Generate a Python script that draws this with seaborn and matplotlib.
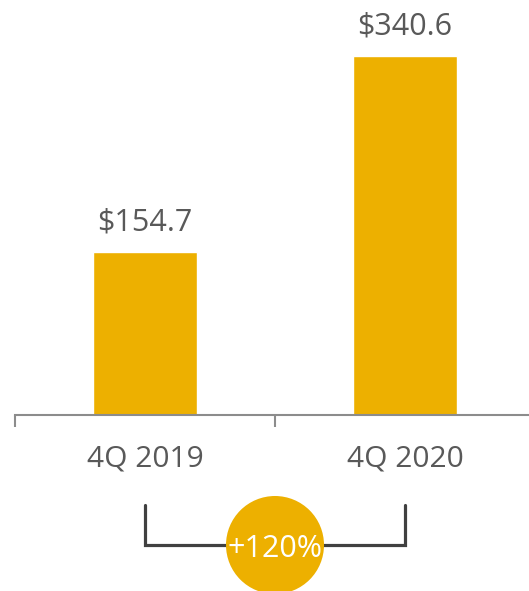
import matplotlib
matplotlib.use("Agg")
import matplotlib.pyplot as plt
from matplotlib.patches import Ellipse
import seaborn as sns
import pandas as pd

# Quarterly totals ($)
quarters = ["4Q 2019", "4Q 2020"]
totals = [154.7, 340.6]
value_labels = ["$154.7", "$340.6"]
growth_label = "+120%"

GOLD = "#EDB000"
TEXT_GRAY = "#595959"
AXIS_GRAY = "#8C8C8C"
BRACKET_GRAY = "#404040"

sns.set_theme(style="white")
plt.rcParams["font.family"] = ["Open Sans", "DejaVu Sans"]

df = pd.DataFrame({"quarter": quarters, "total": totals})

fig = plt.figure(figsize=(5.29, 5.91), dpi=100)
W, H = 529, 591
# axes spans from x=15px to 535px (right end runs off the canvas), baseline at y=415px
ax = fig.add_axes([15 / W, (H - 415) / H, 520 / W, 400 / H])

sns.barplot(data=df, x="quarter", y="total", color=GOLD, saturation=1,
            width=0.4, ax=ax)

ax.set_xlim(-0.5, 1.5)
ax.set_ylim(0, 380)
px = 400 / 380  # pixels per data unit

for s in ("top", "right", "left"):
    ax.spines[s].set_visible(False)
ax.spines["bottom"].set_color(AXIS_GRAY)
ax.spines["bottom"].set_linewidth(1.5)

ax.set_xlabel("")
ax.set_ylabel("")
ax.set_yticks([])
ax.set_xticks([0, 1])
ax.set_xticklabels(quarters, fontsize=21.5, color=TEXT_GRAY)
ax.tick_params(axis="x", which="major", length=0, pad=21)
ax.set_xticks([-0.5, 0.5, 1.5], minor=True)
ax.tick_params(axis="x", which="minor", bottom=True, length=8.5, width=1.5,
               color=AXIS_GRAY, direction="out")

# value labels above the bars
for i, (v, lab) in enumerate(zip(totals, value_labels)):
    ax.annotate(lab, xy=(i, v), xytext=(0, 15.5), textcoords="offset points",
                ha="center", va="baseline", fontsize=22, color=TEXT_GRAY)

# growth bracket below the axis
y_top = -(505 - 415) / px
y_bar = -(545 - 415) / px
ax.plot([0, 0, 1, 1], [y_top, y_bar, y_bar, y_top], color=BRACKET_GRAY,
        lw=2.3, clip_on=False, solid_joinstyle="miter", zorder=3)
ax.add_patch(Ellipse((0.5, y_bar), width=98 / 260, height=98 / px,
                     facecolor=GOLD, edgecolor="none", clip_on=False, zorder=4))
ax.text(0.5, -(557 - 415) / px, growth_label, ha="center", va="baseline",
        fontsize=22, color="white", zorder=5, clip_on=False)

fig.savefig("out.png", dpi=100)
